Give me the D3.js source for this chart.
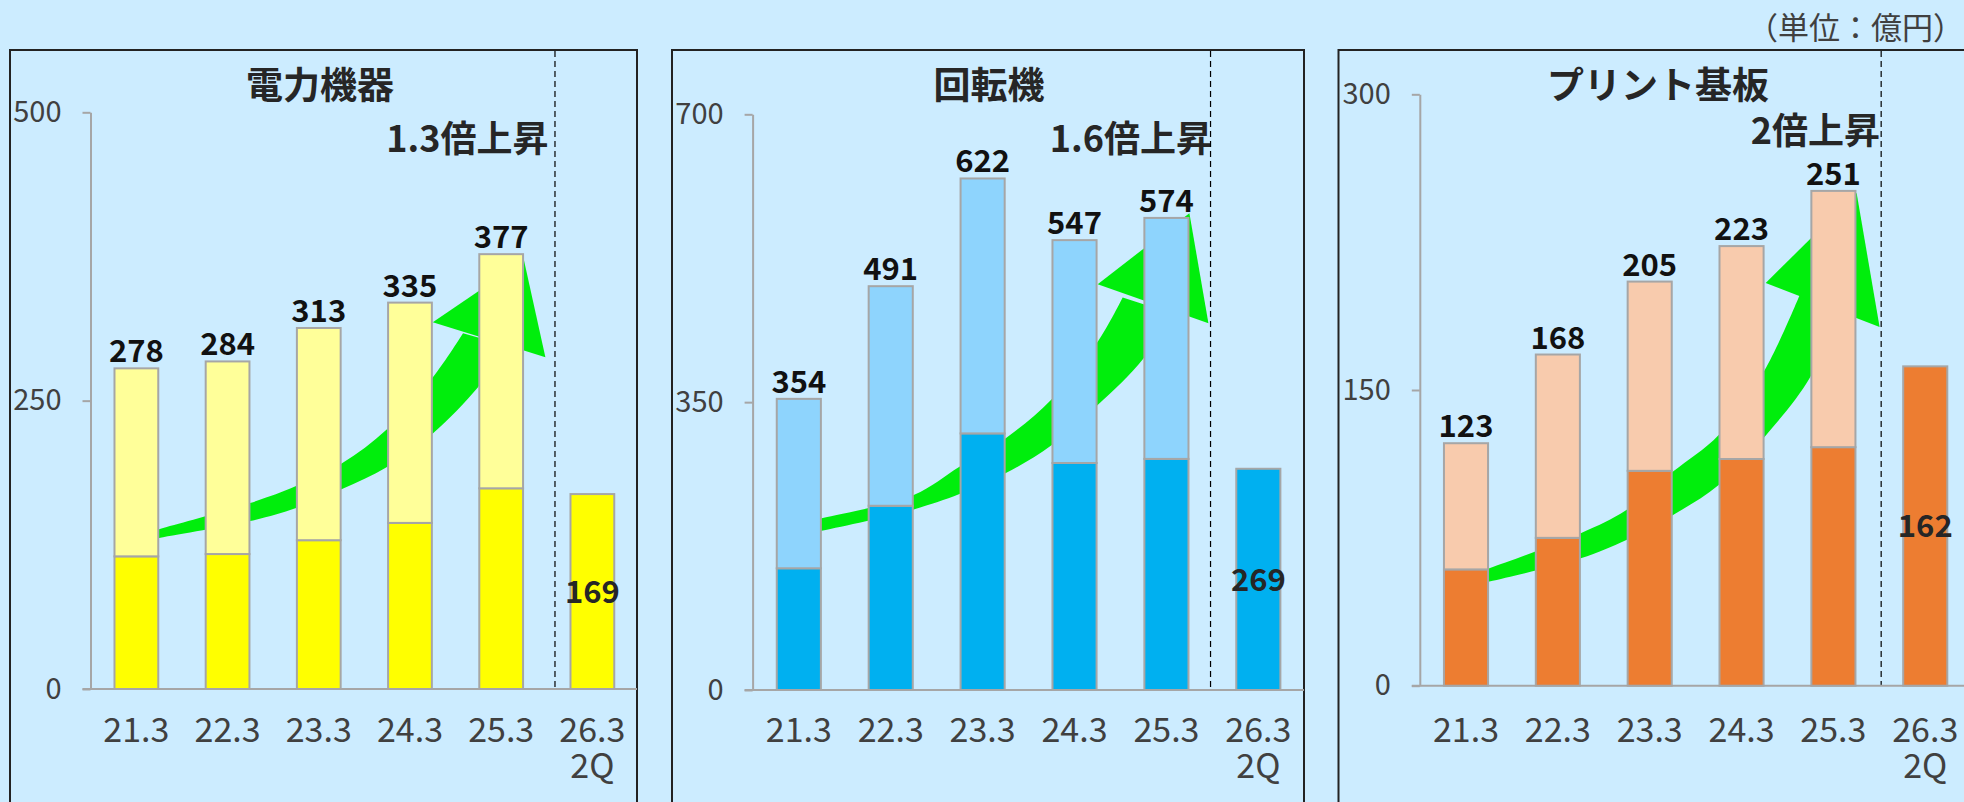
<!DOCTYPE html>
<html><head><meta charset="utf-8">
<script src="https://cdn.jsdelivr.net/npm/d3@7"></script>
<style>
html,body{margin:0;padding:0;background:#CCECFF;overflow:hidden;}
svg{display:block;}
text{font-family:"Noto Sans CJK JP","Noto Sans",sans-serif;}
</style></head><body>
<svg id="chart" width="1964" height="802"></svg>
<script>
// ---------------- data ----------------
const categories = ["21.3","22.3","23.3","24.3","25.3","26.3"];
const subLabels  = ["","","","","","2Q"];
const titles = ["電力機器","回転機","プリント基板"];
const growthLabels = ["1.3倍上昇","1.6倍上昇","2倍上昇"];
const unitLabel = "（単位：億円）";

const powerTotal    = [278,284,313,335,377,169];
const powerLower    = [115,117,129,144,174,169];
const rotatingTotal = [354,491,622,547,574,269];
const rotatingLower = [148,224,312,276,281,269];
const pcbTotal      = [123,168,205,223,251,162];
const pcbLower      = [59,75,109,115,121,162];

const powerTicks    = [0,250,500];
const rotatingTicks = [0,350,700];
const pcbTicks      = [0,150,300];

// growth arrows, in data units: [category position (0 = first bar), value]
const powerArrowTop    = [[0,133],[0.249,138.6],[1.247,161.2],[1.751,175.9],[2.255,195.8],[2.748,225.3],[3.253,270.4],[3.582,308.5]];
const powerArrowBottom = [[0,127],[0.249,130.9],[1.247,145.6],[1.751,156.9],[2.255,173.3],[2.748,192.4],[3.253,221.8],[3.746,261.7],[4.075,297.3]];
const powerArrowHead   = [[3.25,318.0],[4.25,371.8],[4.485,287.7]];

const rotatingArrowTop    = [[0,202],[0.249,208.7],[1.250,237.0],[1.748,271.4],[2.248,305.9],[2.749,353.3],[3.252,423.3],[3.524,477.2]];
const rotatingArrowBottom = [[0,188],[0.249,193.6],[1.250,219.6],[1.748,238.2],[2.248,263.4],[2.749,297.7],[3.252,346.4],[3.750,403.1],[4.054,458.2]];
const rotatingArrowHead   = [[3.252,493.4],[4.250,579.7],[4.457,446.0]];

const pcbArrowTop    = [[0,56],[0.254,59.6],[1.249,77.3],[1.746,89.1],[2.254,108.6],[2.751,127.2],[3.252,160.1],[3.633,198.2]];
const pcbArrowBottom = [[0,50],[0.254,52.8],[1.249,64.6],[1.746,73.9],[2.254,86.6],[2.751,101.8],[3.252,126.3],[3.750,156.7],[4.047,190.1]];
const pcbArrowHead   = [[3.263,204.3],[4.253,249.9],[4.503,181.9]];

// ---------------- layout ----------------
const panels = [
  {title:titles[0], growth:growthLabels[0], total:powerTotal, lower:powerLower, ticks:powerTicks,
   arrow:{top:powerArrowTop,bottom:powerArrowBottom,head:powerArrowHead},
   colors:{lower:"#FFFF00", upper:"#FFFF99"},
   left:10, right:637, axisX:90.5, y0:689, yTop:112.3, step:91.2,
   titleX:320, growthRight:548.5, growthY:139, divider:0.59},
  {title:titles[1], growth:growthLabels[1], total:rotatingTotal, lower:rotatingLower, ticks:rotatingTicks,
   arrow:{top:rotatingArrowTop,bottom:rotatingArrowBottom,head:rotatingArrowHead},
   colors:{lower:"#00B0F0", upper:"#8ED4FD"},
   left:672, right:1304, axisX:752.6, y0:690, yTop:114.3, step:91.9,
   titleX:989, growthRight:1212, growthY:139, divider:0.48},
  {title:titles[2], growth:growthLabels[2], total:pcbTotal, lower:pcbLower, ticks:pcbTicks,
   arrow:{top:pcbArrowTop,bottom:pcbArrowBottom,head:pcbArrowHead},
   colors:{lower:"#ED7D31", upper:"#F8CBAD"},
   left:1338.5, right:1966, axisX:1419.8, y0:685.7, yTop:94.3, step:91.85,
   titleX:1658, growthRight:1880, growthY:131, divider:0.52}
];

const GRAY = "#A6A6A6";
const GREEN = "#00EE0C";
const NUM_FONT = '"Noto Sans CJK JP","Noto Sans",sans-serif';
const svg = d3.select("#chart");

svg.append("text")
  .attr("x", 1964).attr("y", 27 + 0.38*31)
  .attr("text-anchor","end")
  .attr("font-size", 31).attr("fill","#404040")
  .text(unitLabel);

const PI = 0.52, PO = 0.263;

panels.forEach(p => {
  const g = svg.append("g");
  const n = categories.length;
  const rangeLen = p.step * (n - PI + 2*PO);
  const x = d3.scaleBand().domain(categories).range([p.axisX, p.axisX + rangeLen])
              .paddingInner(PI).paddingOuter(PO);
  const maxV = d3.max(p.ticks);
  const y = d3.scaleLinear().domain([0, maxV]).range([p.y0, p.yTop]);
  const cx = i => x(categories[i]) + x.bandwidth()/2;
  const stepPx = x.step();
  const px = pos => cx(0) + pos*stepPx;

  // panel frame
  g.append("rect")
    .attr("x", p.left).attr("y", 50)
    .attr("width", p.right - p.left).attr("height", 800)
    .attr("fill", "none").attr("stroke", "#222").attr("stroke-width", 2);

  // title
  g.append("text")
    .attr("x", p.titleX).attr("y", 85 + 0.38*37)
    .attr("text-anchor","middle").attr("font-size",37).attr("font-weight","bold")
    .attr("fill","#262626").text(p.title);

  // growth annotation
  g.append("text")
    .attr("x", p.growthRight).attr("y", p.growthY + 0.37*36)
    .attr("text-anchor","end").attr("font-size",36).attr("font-weight","bold")
    .attr("fill","#262626").text(p.growth);

  // divider (dashed)
  const dx = cx(n-2) + p.divider*stepPx;
  g.append("line")
    .attr("x1", dx).attr("x2", dx).attr("y1", 51).attr("y2", p.y0)
    .attr("stroke","#000").attr("stroke-width",1.2).attr("stroke-dasharray","6,4");

  // green arrow (behind bars)
  const line = d3.line().x(d => px(d[0])).y(d => y(d[1])).curve(d3.curveCatmullRom);
  const topStr = line(p.arrow.top);
  const botStr = line(p.arrow.bottom.slice().reverse()).replace(/^M/, "L");
  const last = p.arrow.bottom[p.arrow.bottom.length-1];
  g.append("path")
    .attr("d", topStr + "L" + px(last[0]) + "," + y(last[1]) + botStr + "Z")
    .attr("fill", GREEN);
  g.append("path")
    .attr("d", d3.line().x(d => px(d[0])).y(d => y(d[1]))(p.arrow.head) + "Z")
    .attr("fill", GREEN);

  // y axis
  const yAxis = d3.axisLeft(y).tickValues(p.ticks).tickSize(8).tickSizeOuter(0).tickPadding(21);
  const ya = g.append("g").attr("transform", `translate(${p.axisX},0)`).call(yAxis);
  ya.select(".domain").attr("stroke", GRAY).attr("stroke-width", 2);
  ya.selectAll(".tick line").attr("stroke", GRAY).attr("stroke-width", 2);
  ya.selectAll(".tick text")
    .attr("font-family", NUM_FONT)
    .attr("font-size", 29).attr("fill", "#404040");

  // baseline
  g.append("line")
    .attr("x1", p.axisX - 8).attr("x2", Math.min(p.right, 1964)).attr("y1", p.y0).attr("y2", p.y0)
    .attr("stroke", GRAY).attr("stroke-width", 2);

  // bars
  categories.forEach((c, i) => {
    const lo = p.lower[i], tot = p.total[i];
    g.append("rect")
      .attr("x", x(c)).attr("width", x.bandwidth())
      .attr("y", y(lo)).attr("height", y(0) - y(lo))
      .attr("fill", p.colors.lower).attr("stroke", GRAY).attr("stroke-width", 2);
    if (tot > lo) {
      g.append("rect")
        .attr("x", x(c)).attr("width", x.bandwidth())
        .attr("y", y(tot)).attr("height", y(lo) - y(tot))
        .attr("fill", p.colors.upper).attr("stroke", GRAY).attr("stroke-width", 2);
    }
    // value labels
    if (i < n-1) {
      g.append("text")
        .attr("x", cx(i)).attr("y", y(tot) - 6)
        .attr("text-anchor","middle").attr("font-size",31).attr("font-weight","bold")
        .attr("fill","#111").text(tot);
    } else {
      g.append("text")
        .attr("x", cx(i)).attr("y", (y(tot) + y(0))/2 + 0.36*31)
        .attr("text-anchor","middle").attr("font-size",31).attr("font-weight","bold")
        .attr("fill","#262626").text(tot);
    }
    // category labels (two lines in one text element)
    const t = g.append("text")
      .attr("text-anchor","middle").attr("font-size",34)
      .attr("font-family", NUM_FONT)
      .attr("fill","#404040");
    t.append("tspan").attr("x", cx(i)).attr("y", 742).text(c);
    if (subLabels[i]) {
      t.append("tspan").attr("x", cx(i)).attr("y", 778).text(subLabels[i]);
    }
  });
});
</script>
</body></html>
